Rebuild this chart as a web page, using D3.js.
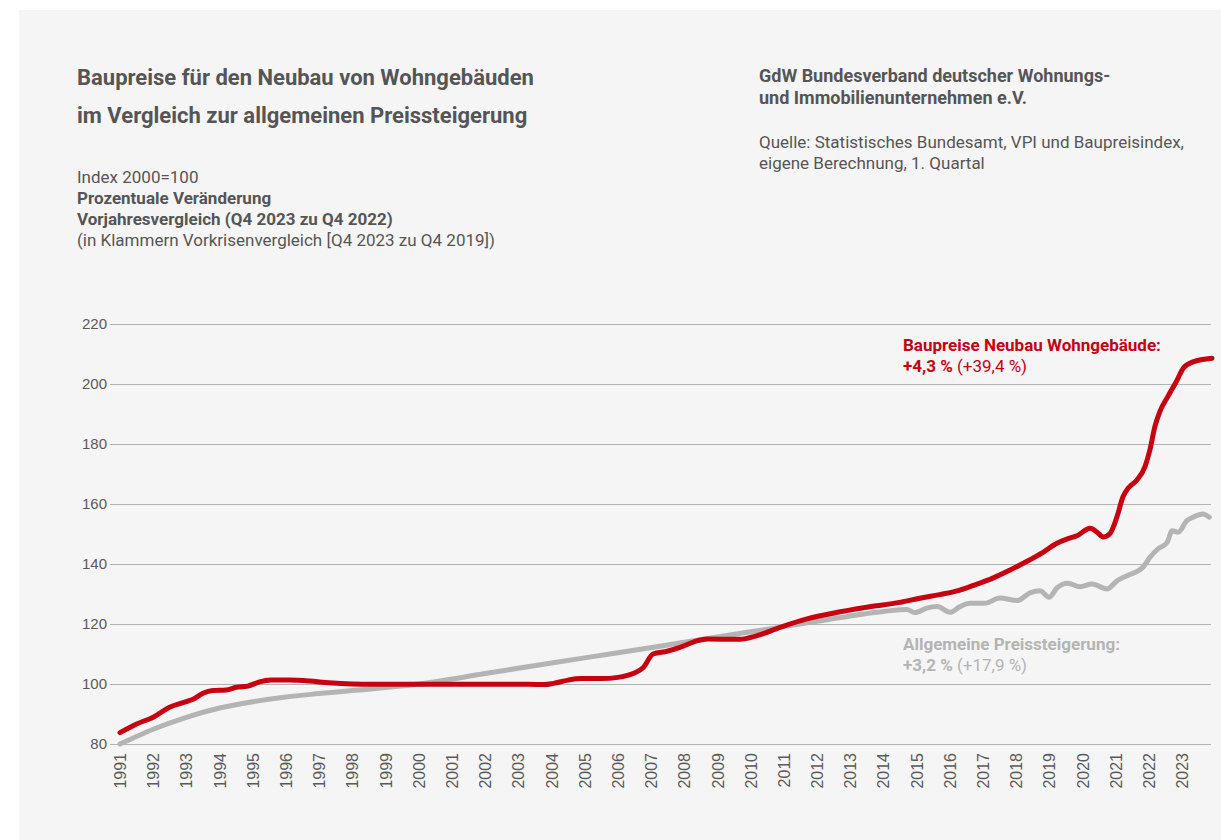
<!DOCTYPE html>
<html>
<head>
<meta charset="utf-8">
<script src="https://cdn.jsdelivr.net/npm/d3@7"></script>
<style>
  body { margin: 0; background: #fff; }
  svg { display: block; font-family: Roboto, "Noto Sans", sans-serif; }
  .tick line { stroke: #b3b3b3; }
  .tick text { fill: #5a5a5a; font-size: 15px; }
</style>
</head>
<body>
<div id="chart"></div>
<script>
const svgWidth = 1221;
const svgHeight = 840;

// y axis ticks and x axis years
const yTicks = [80, 100, 120, 140, 160, 180, 200, 220];
const xYears = d3.range(1991, 2024);

// Baupreise Neubau Wohngebäude
const redYears = [1991.0, 1991.5, 1992.0, 1992.45, 1992.9, 1993.2, 1993.5, 1993.8, 1994.2, 1994.5, 1994.85,
  1995.2, 1995.55, 1996.1, 1996.7, 1997.3, 1998.0, 1998.65, 1999.6, 2000.5, 2001.5, 2002.5, 2003.3, 2003.8,
  2004.06, 2004.5, 2004.9, 2005.5, 2006.0, 2006.46, 2006.76, 2007.06, 2007.48, 2007.87, 2008.38, 2008.69,
  2009.68, 2010.19, 2010.89, 2011.7, 2012.48, 2013.5, 2014.5, 2015.1, 2015.7, 2016.31, 2016.82, 2017.3,
  2017.82, 2018.33, 2018.81, 2019.23, 2019.53, 2019.83, 2020.23, 2020.44, 2020.62, 2020.83, 2021.04,
  2021.22, 2021.37, 2021.64, 2021.88, 2022.03, 2022.18, 2022.33, 2022.57, 2022.85, 2023.03, 2023.33, 2023.9];
const redValues = [83.8, 86.7, 88.9, 92.0, 93.8, 94.9, 96.9, 97.8, 98.0, 98.9, 99.3,
  100.7, 101.3, 101.3, 101.0, 100.4, 100.0, 99.9, 99.9, 99.9, 99.9, 99.9, 99.9, 99.8,
  100.2, 101.3, 101.8, 101.8, 102.2, 103.5, 105.4, 110.0, 110.9, 112.2, 114.4, 115.0,
  114.9, 116.1, 118.9, 121.7, 123.6, 125.6, 127.2, 128.6, 129.8, 131.3, 133.3, 135.3,
  138.0, 140.9, 143.9, 146.9, 148.3, 149.4, 151.9, 150.6, 149.0, 150.2, 155.8,
  162.4, 165.2, 168.0, 172.4, 178.0, 185.8, 190.8, 195.8, 201.3, 205.2, 207.4, 208.6];

// Allgemeine Preissteigerung (VPI)
const grayYears = [1991.0, 1991.5, 1992.0, 1993.0, 1994.0, 1995.0, 1996.0, 1997.0, 1998.0, 1999.0, 2000.0,
  2002.0, 2004.0, 2006.0, 2008.0, 2010.0, 2012.0, 2014.0, 2014.71, 2014.95, 2015.31, 2015.62, 2016.01,
  2016.31, 2016.61, 2017.06, 2017.51, 2018.03, 2018.42, 2018.72, 2018.99, 2019.23, 2019.56, 2019.92,
  2020.29, 2020.74, 2021.04, 2021.34, 2021.82, 2022.03, 2022.27, 2022.55, 2022.7, 2022.88, 2023.14,
  2023.33, 2023.63, 2023.82];
const grayValues = [80.0, 82.5, 84.9, 88.9, 92.0, 94.1, 95.7, 96.8, 97.8, 98.8, 100.0,
  103.5, 107.0, 110.4, 113.9, 117.4, 120.9, 124.2, 124.8, 123.8, 125.3, 125.8, 123.9,
  125.8, 126.9, 126.9, 128.7, 127.8, 130.4, 131.1, 128.9, 132.0, 133.6, 132.4,
  133.3, 131.7, 134.4, 136.1, 138.9, 142.2, 145.0, 147.2, 151.1, 150.6, 154.4,
  155.6, 156.7, 155.6];

const redSeries = redYears.map((y, i) => ({ year: y, value: redValues[i] }));
const graySeries = grayYears.map((y, i) => ({ year: y, value: grayValues[i] }));

const svg = d3.select("#chart")
  .append("svg")
  .attr("width", svgWidth)
  .attr("height", svgHeight);

// grey panel
svg.append("rect")
  .attr("x", 19)
  .attr("y", 10)
  .attr("width", svgWidth - 19)
  .attr("height", svgHeight - 10)
  .attr("fill", "#f5f5f5");

const gridLeft = 110;
const gridRight = 1211;

const xScale = d3.scaleLinear()
  .domain([1991, 2024])
  .range([120, 120 + 33 * 33.19]);

const yScale = d3.scaleLinear()
  .domain([80, 220])
  .range([744, 324]);

// y axis with gridlines
const yAxis = svg.append("g")
  .attr("transform", `translate(${gridLeft}, 0)`)
  .call(d3.axisLeft(yScale)
    .tickValues(yTicks)
    .tickSize(-(gridRight - gridLeft))
    .tickPadding(3));
yAxis.select(".domain").remove();
yAxis.selectAll(".tick line").attr("stroke", "#b3b3b3");

// x axis, rotated year labels
const xAxis = svg.append("g")
  .attr("transform", `translate(0, ${yScale(80)})`)
  .call(d3.axisBottom(xScale)
    .tickValues(xYears)
    .tickFormat(d3.format("d"))
    .tickSize(0));
xAxis.select(".domain").remove();
xAxis.selectAll(".tick text")
  .style("font-size", "16px")
  .attr("transform", "rotate(-90)")
  .attr("x", -9)
  .attr("y", 0)
  .attr("dy", "0.35em")
  .attr("text-anchor", "end");

const line = d3.line()
  .x(d => xScale(d.year))
  .y(d => yScale(d.value))
  .curve(d3.curveMonotoneX);

svg.append("path")
  .datum(graySeries)
  .attr("fill", "none")
  .attr("stroke", "#b4b4b4")
  .attr("stroke-width", 5)
  .attr("stroke-linecap", "round")
  .attr("stroke-linejoin", "round")
  .attr("d", line);

svg.append("path")
  .datum(redSeries)
  .attr("fill", "none")
  .attr("stroke", "#c8000f")
  .attr("stroke-width", 5)
  .attr("stroke-linecap", "round")
  .attr("stroke-linejoin", "round")
  .attr("d", line);

// titles and notes
const textColor = "#555";

function addText(x, y, str, size, weight, color) {
  return svg.append("text")
    .attr("x", x)
    .attr("y", y)
    .attr("font-size", size)
    .attr("font-weight", weight)
    .attr("fill", color)
    .text(str);
}

addText(77, 85, "Baupreise für den Neubau von Wohngebäuden", "22px", "bold", textColor);
addText(77, 123, "im Vergleich zur allgemeinen Preissteigerung", "22px", "bold", textColor);
addText(77, 183, "Index 2000=100", "17px", "normal", textColor);
addText(77, 204, "Prozentuale Veränderung", "17px", "bold", textColor);
addText(77, 225, "Vorjahresvergleich (Q4 2023 zu Q4 2022)", "17px", "bold", textColor);
addText(77, 246, "(in Klammern Vorkrisenvergleich [Q4 2023 zu Q4 2019])", "17px", "normal", textColor);

addText(759, 82, "GdW Bundesverband deutscher Wohnungs-", "18px", "bold", textColor);
addText(759, 104, "und Immobilienunternehmen e.V.", "18px", "bold", textColor);
addText(759, 148, "Quelle: Statistisches Bundesamt, VPI und Baupreisindex,", "17px", "normal", textColor);
addText(759, 169, "eigene Berechnung, 1. Quartal", "17px", "normal", textColor);

// series labels
addText(903, 351, "Baupreise Neubau Wohngebäude:", "17px", "bold", "#c8000f");
const redNote = addText(903, 372, "", "17px", "bold", "#c8000f");
redNote.append("tspan").text("+4,3 %");
redNote.append("tspan").attr("font-weight", "normal").text(" (+39,4 %)");

addText(903, 650, "Allgemeine Preissteigerung:", "17px", "bold", "#b4b4b4");
const grayNote = addText(903, 671, "", "17px", "bold", "#b4b4b4");
grayNote.append("tspan").text("+3,2 %");
grayNote.append("tspan").attr("font-weight", "normal").text(" (+17,9 %)");
</script>
</body>
</html>
